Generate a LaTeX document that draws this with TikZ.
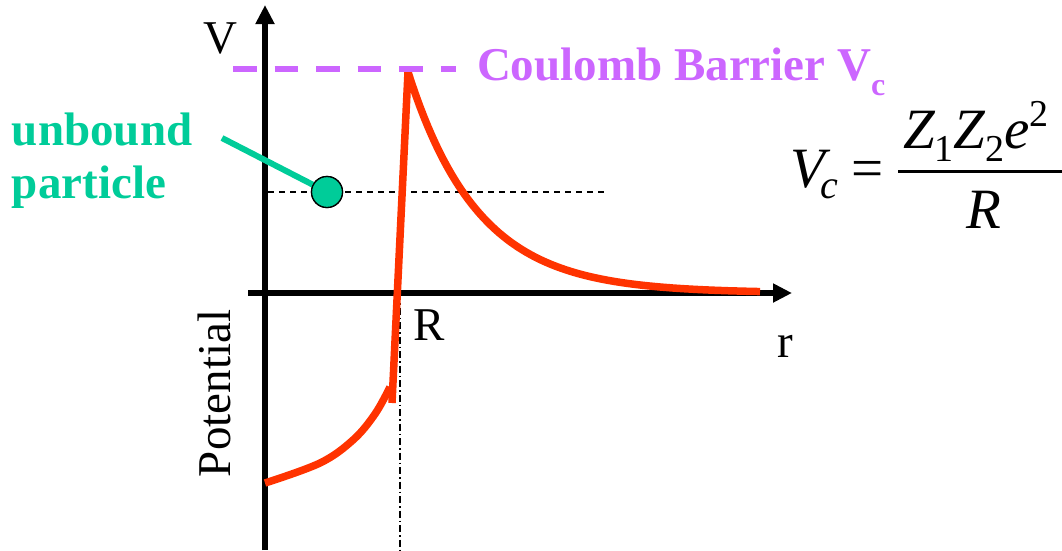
\documentclass[tikz,border=0pt]{standalone}
\usepackage{fontspec}
\setmainfont{Liberation Serif}
\usetikzlibrary{arrows.meta}
\definecolor{barrier}{HTML}{CC66FF}
\definecolor{partgreen}{HTML}{00CC99}
\definecolor{potred}{HTML}{FF3300}
\newcommand{\bigfont}{\fontsize{47}{56}\selectfont}
\newcommand{\eqfont}{\fontsize{57}{66}\selectfont}
\tikzset{
  axisline/.style={line width=6pt, -{Triangle[length=19pt,width=18pt]}},
  potline/.style={line width=7.5pt, potred, line join=round},
  lbl/.style={inner sep=0pt, outer sep=0pt, font=\bigfont},
  eqlbl/.style={inner sep=0pt, outer sep=0pt, font=\eqfont\itshape},
  ballstyle/.style={circle, draw=black, line width=1.3pt, fill=partgreen, minimum size=31pt, inner sep=0pt},
}
\begin{document}
\begin{tikzpicture}[x=1pt,y=-1pt]
\useasboundingbox (0,0) rectangle (1062,550);
% guide lines
\coordinate (dl) at (268,192);
\coordinate (dr) at (605,192);
\draw[line width=1.3pt, dash pattern=on 6pt off 5pt] (dl) -- (dr);
\coordinate (rtop) at (400,293);
\coordinate (rbot) at (400,550);
\draw[line width=1.2pt, dash pattern=on 7pt off 3pt on 1.5pt off 3pt] (rtop) -- (rbot);
% axes
\coordinate (vb) at (265,550);
\coordinate (vt) at (265,5);
\coordinate (hl) at (248,293);
\coordinate (hr) at (792,293);
\draw[axisline] (vb) -- (vt);
\draw[axisline] (hl) -- (hr);
% potential curve
\draw[potline] plot[smooth, tension=0.6] coordinates {(265,483) (320,463) (353,440) (375,414) (390,387)};
\coordinate (wallbot) at (392,403);
\coordinate (peak) at (408,72);
\draw[potline] (wallbot) -- (peak) -- plot[domain=408:760, samples=90] (\x, {293-221*exp(-(\x-408)/70)});
% Coulomb barrier line
\coordinate (bl) at (233,69);
\coordinate (br) at (456,69);
\draw[barrier, line width=6pt, dash pattern=on 23.5pt off 18pt] (bl) -- (br);
\node[lbl, anchor=base west, text=barrier, font=\bigfont\bfseries] (cb) at (477,80) {Coulomb Barrier V\raisebox{-15pt}{\fontsize{32}{32}\selectfont c}};
% particle
\coordinate (gl) at (222,138);
\node[ballstyle] (ball) at (327,192) {};
\draw[partgreen, line width=6pt] (gl) -- (ball.center);
\node[ballstyle] (ballfront) at (ball.center) {};
\node[lbl, anchor=base west, text=partgreen, font=\bigfont\bfseries] (ub) at (12,145) {unbound};
\node[lbl, anchor=base west, text=partgreen, font=\bigfont\bfseries] (pt) at (12,198) {particle};
% axis labels
\node[lbl, anchor=base west] (vlab) at (203,53) {V};
\node[lbl, anchor=base west] (rlab) at (777,357) {r};
\node[lbl, anchor=base west] (Rlab) at (413,340) {R};
\node[lbl, anchor=base west, rotate=90] (potlab) at (230,477) {Potential};
% formula
\node[eqlbl, anchor=base west] (vc) at (790,187) {V\kern-4pt\raisebox{-11pt}{\fontsize{40}{40}\selectfont c}};
\node[inner sep=0pt, anchor=base west, font=\eqfont] (eq) at (851,187) {=};
\node[eqlbl, anchor=base west] (num) at (903,148) {Z\raisebox{-13pt}{\fontsize{38}{38}\selectfont\upshape 1}Z\raisebox{-13pt}{\fontsize{38}{38}\selectfont\upshape 2}e\raisebox{22pt}{\fontsize{38}{38}\selectfont\upshape 2}};
\coordinate (fl) at (898,171);
\coordinate (fr) at (1062,171);
\draw[line width=3pt] (fl) -- (fr);
\node[eqlbl, anchor=base west] (den) at (966,228) {R};
\end{tikzpicture}
\end{document}
